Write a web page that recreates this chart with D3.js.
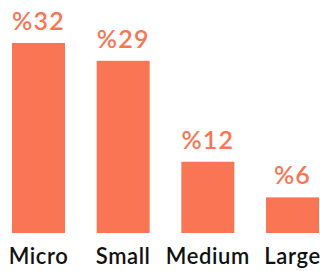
<!DOCTYPE html>
<html>
<head>
<meta charset="utf-8">
<script src="https://cdn.jsdelivr.net/npm/d3@7"></script>
<style>
  html, body { margin: 0; padding: 0; background: #fff; }
  svg { display: block; }
</style>
</head>
<body>
<div class="chart"></div>
<script>
const categories = ['Micro', 'Small', 'Medium', 'Large'];
const values = [32, 29, 12, 6];
const valueLabels = ['%32', '%29', '%12', '%6'];

const width = 320;
const height = 271;
const coral = '#f97553';

const svg = d3.select('.chart')
  .append('svg')
    .attr('width', width)
    .attr('height', height);

const x = d3.scaleBand()
  .domain(categories)
  .range([12, 319])
  .paddingInner(0.374)
  .paddingOuter(0);

const y = d3.scaleLinear()
  .domain([0, 32])
  .range([233, 43]);

const data = categories.map((c, i) => ({ cat: c, value: values[i], label: valueLabels[i] }));

svg.selectAll('.bar')
  .data(data)
  .enter().append('rect')
    .attr('class', 'bar')
    .attr('x', d => x(d.cat))
    .attr('y', d => y(d.value))
    .attr('width', x.bandwidth())
    .attr('height', d => y(0) - y(d.value))
    .attr('fill', coral);

svg.selectAll('.value')
  .data(data)
  .enter().append('text')
    .attr('class', 'value')
    .attr('x', d => x(d.cat) + x.bandwidth() / 2)
    .attr('y', d => y(d.value) - 13)
    .attr('text-anchor', 'middle')
    .attr('font-family', 'Lato, sans-serif')
    .attr('font-weight', 600)
    .attr('font-size', 25)
    .attr('letter-spacing', 1.2)
    .attr('fill', coral)
    .text(d => d.label);

svg.selectAll('.cat')
  .data(data)
  .enter().append('text')
    .attr('class', 'cat')
    .attr('x', d => x(d.cat) + x.bandwidth() / 2)
    .attr('y', 264)
    .attr('text-anchor', 'middle')
    .attr('font-family', 'Lato, sans-serif')
    .attr('font-weight', 600)
    .attr('font-size', 22)
    .attr('letter-spacing', 0.6)
    .attr('fill', '#111')
    .text(d => d.cat);
</script>
</body>
</html>
